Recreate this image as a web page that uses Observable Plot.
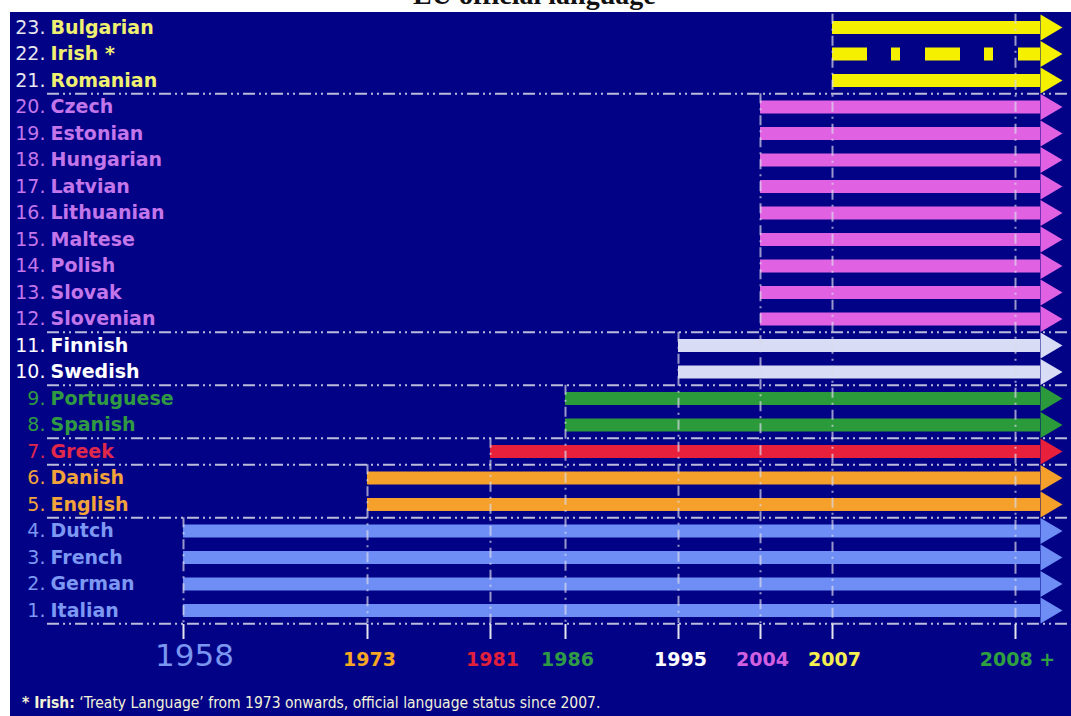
<!DOCTYPE html>
<html>
<head>
<meta charset="utf-8">
<script src="https://cdn.jsdelivr.net/npm/d3@7"></script>
<script src="https://cdn.jsdelivr.net/npm/@observablehq/plot@0.6"></script>
<style>
  html, body { margin: 0; padding: 0; background: #ffffff; width: 1071px; height: 716px; overflow: hidden; }
  #title { position: absolute; left: 0; top: 0; width: 1071px; height: 12px; overflow: hidden; }
  #title span { position: absolute; left: 413px; top: -19px; font: bold 28px/28px "Liberation Serif", serif; color: #111; white-space: nowrap; }
  #panel { position: absolute; left: 10px; top: 12px; width: 1061px; height: 704px; background: #020286; }
  #chart { position: absolute; left: 0; top: 0; }
  #note { position: absolute; left: 12px; top: 682px; font: 15.5px/18px "DejaVu Sans Condensed", "DejaVu Sans", sans-serif; color: #f2f2d8; white-space: nowrap; }
</style>
</head>
<body>
<div id="title"><span>EU official language</span></div>
<div id="panel">
  <div id="chart"></div>
  <div id="note"><b>* Irish:</b> ‘Treaty Language’ from 1973 onwards, official language status since 2007.</div>
</div>
<script>
// ---- data ----
const languages = ["Bulgarian","Irish *","Romanian","Czech","Estonian","Hungarian","Latvian","Lithuanian","Maltese","Polish","Slovak","Slovenian","Finnish","Swedish","Portuguese","Spanish","Greek","Danish","English","Dutch","French","German","Italian"];
const ranks = [23,22,21,20,19,18,17,16,15,14,13,12,11,10,9,8,7,6,5,4,3,2,1];
const joinYears = [2007,2007,2007,2004,2004,2004,2004,2004,2004,2004,2004,2004,1995,1995,1986,1986,1981,1973,1973,1958,1958,1958,1958];
const treatyOnly = ["Irish *"];
const tickYears = [1958,1973,1981,1986,1995,2004,2007,2008];
const tickLabels = ["1958","1973","1981","1986","1995","2004","2007","2008 +"];
const openEnd = 2008.5; // still official: arrows run past "2008 +"

// colours per enlargement
const arrowColors = {1958:"#6e8ef5",1973:"#f5a02a",1981:"#e8203c",1986:"#2a9a3a",1995:"#d8dcf5",2004:"#e062e2",2007:"#f5f000"};
const nameColors  = {1958:"#7c98f2",1973:"#f2a33a",1981:"#e0284a",1986:"#2f9a42",1995:"#ffffff",2004:"#c276ea",2007:"#f0f070"};
const numColors   = {1958:"#7c98f2",1973:"#f2a33a",1981:"#e0284a",1986:"#2f9a42",1995:"#ffffff",2004:"#c276ea",2007:"#e6e6ee"};
const tickColors  = ["#7b96f0","#f5a623","#e0203a","#2f9a45","#ffffff","#d060e0","#f5f050","#2fa040"];

// ---- derived tables ----
const rows = languages.map((name, i) => ({name, n: ranks[i], start: joinYears[i], dashed: treatyOnly.includes(name)}));
const groups = d3.groups(rows, d => d.start);
const boundaries = groups.map(([, g]) => d3.min(g, d => d.n) - 0.5);
const grid = tickYears.map(y => ({year: y, top: d3.max(rows.filter(d => d.start <= y), d => d.n) + 0.5}));
const ticks = tickYears.map((y, i) => ({year: y, label: tickLabels[i], color: tickColors[i]}));

const arrowHead = {draw(ctx) { ctx.moveTo(0, -13); ctx.lineTo(22, 0); ctx.lineTo(0, 13); ctx.closePath(); }};

const chart = Plot.plot({
  width: 1061,
  height: 675,
  marginLeft: 37,
  marginRight: 0,
  marginTop: 0,
  marginBottom: 63,
  style: {background: "transparent", overflow: "visible"},
  x: {type: "linear", domain: [1958,1973,1981,1986,1995,2004,2007,2008,2009], range: [173,357,480,555,668,750,822,1005,1055]},
  y: {type: "linear", domain: [1, 23], range: [598, 15], axis: null},
  color: {type: "identity"},
  marks: [
    // group separators (dash-dot)
    Plot.ruleY(boundaries, {y: d => d, stroke: "#cfd0e6", strokeWidth: 2, strokeDasharray: "12,4,2,4,2,4", strokeOpacity: 0.9}),
    // arrow shafts
    Plot.ruleY(rows.filter(d => !d.dashed), {y: "n", x1: "start", x2: () => openEnd, stroke: d => arrowColors[d.start], strokeWidth: 13}),
    Plot.ruleY(rows.filter(d => d.dashed), {y: "n", x1: "start", x2: () => openEnd, stroke: d => arrowColors[d.start], strokeWidth: 13, strokeDasharray: "35,24,9,25"}),
    // arrow heads
    Plot.dot(rows, {x: () => openEnd, y: "n", symbol: arrowHead, fill: d => arrowColors[d.start], stroke: null}),
    // vertical year lines (dash-dot)
    Plot.ruleX(grid, {x: "year", y1: "top", y2: () => 0.5, stroke: "#d8d8ea", strokeWidth: 2, strokeDasharray: "10,5,2,5", strokeOpacity: 0.7}),
    // axis ticks
    Plot.axisX({ticks: tickYears, tickSize: 15, tickFormat: () => "", stroke: "#e4e4ee", strokeWidth: 2}),
    // year labels
    Plot.text(ticks.filter(d => d.year === 1958), {x: "year", text: "label", frameAnchor: "bottom", dy: 32, dx: 11, lineAnchor: "middle", fill: "color", fontSize: 31, fontFamily: "DejaVu Sans", fontWeight: "normal"}),
    Plot.text(ticks.filter(d => d.year !== 1958), {x: "year", text: "label", frameAnchor: "bottom", dy: 35, dx: 2, lineAnchor: "middle", fill: "color", fontSize: 19, fontFamily: "DejaVu Sans", fontWeight: "bold"}),
    // language labels
    Plot.text(rows, {y: "n", frameAnchor: "left", text: d => d.n + ".", textAnchor: "end", dx: -2, lineAnchor: "middle", fill: d => numColors[d.start], fontSize: 19, fontFamily: "DejaVu Sans"}),
    Plot.text(rows, {y: "n", frameAnchor: "left", text: "name", textAnchor: "start", dx: 3, lineAnchor: "middle", fill: d => nameColors[d.start], fontSize: 19, fontFamily: "DejaVu Sans", fontWeight: "bold"})
  ]
});
document.getElementById("chart").appendChild(chart);
</script>
</body>
</html>
